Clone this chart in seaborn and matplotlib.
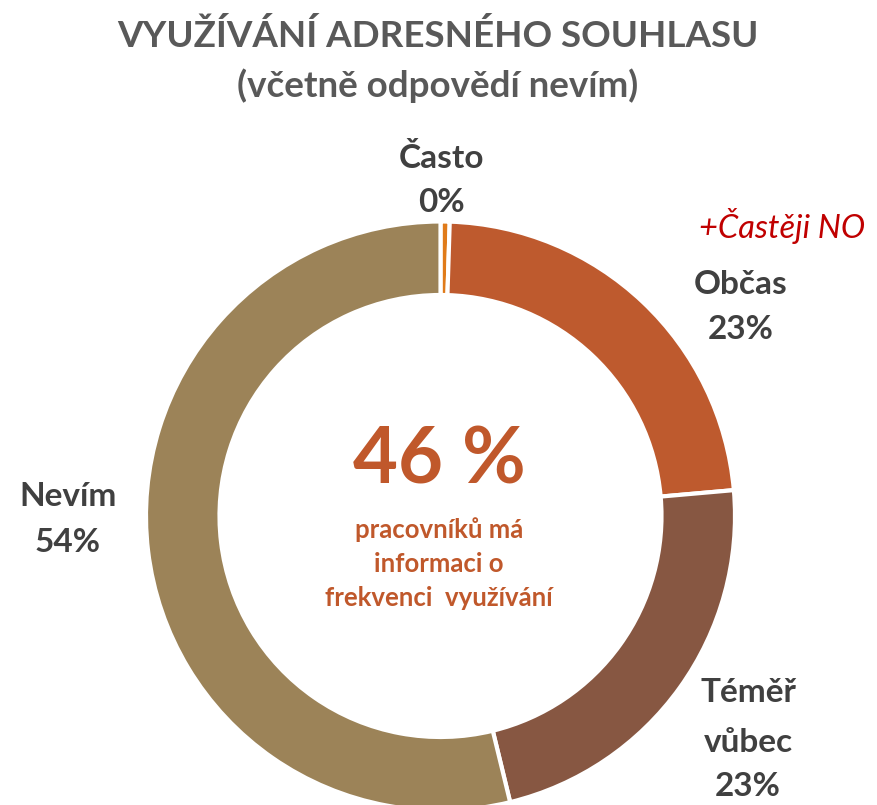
import matplotlib
matplotlib.use("Agg")
import matplotlib.pyplot as plt
import seaborn as sns

categories = ["Často", "Občas", "Téměř\nvůbec", "Nevím"]
values = [0.5, 23.1, 22.6, 53.8]
value_labels = ["0%", "23%", "23%", "54%"]
colors = ["#E07B1A", "#BE5A2E", "#875742", "#9C8358"]

sns.set_theme(style="white")
plt.rcParams["font.family"] = ["Lato", "DejaVu Sans"]

W, H = 877, 805
fig = plt.figure(figsize=(W / 100, H / 100), dpi=100)
ax = fig.add_axes([0, 0, 1, 1])

cx, cy = 440.5, H - 516
r_out, r_in = 294.5, 221

ax.pie(values, colors=colors, startangle=90, counterclock=False,
       center=(cx, cy), radius=r_out,
       wedgeprops=dict(width=r_out - r_in, edgecolor="white", linewidth=3))
ax.set_xlim(0, W)
ax.set_ylim(0, H)
ax.set_aspect("equal")
ax.axis("off")

grey = "#595959"
title_kw = dict(ha="center", va="center", fontsize=26.5, fontweight="bold", color=grey)
ax.text(438, H - 36, "VYUŽÍVÁNÍ ADRESNÉHO SOUHLASU", **title_kw)
ax.text(438, H - 86, "(včetně odpovědí nevím)", **title_kw)

# label line positions in pixels (x, y of each text line)
label_pos = [(441, [158, 203]), (741, [285, 330]), (748, [693, 743, 786]), (68, [497, 543])]
for (lx, ys), cat, val in zip(label_pos, categories, value_labels):
    lines = cat.split("\n") + [val]
    for t, yy in zip(lines, ys):
        ax.text(lx, H - yy, t, ha="center", va="center", fontsize=24,
                fontweight="bold", color="#404040")

ax.text(782, H - 226, "+Častěji NO", ha="center", va="center", fontsize=23.5,
        style="italic", color="#C00000")

orange = "#C0582B"
ax.text(439, H - 462, "46 %", ha="center", va="center", fontsize=56,
        fontweight="bold", color=orange)
center_lines = ["pracovníků má", "informaci o", "frekvenci  využívání"]
for t, yy in zip(center_lines, [530, 564, 598]):
    ax.text(439, H - yy, t, ha="center", va="center", fontsize=18.5,
            fontweight="bold", color=orange)

fig.savefig("out.png", dpi=100)
